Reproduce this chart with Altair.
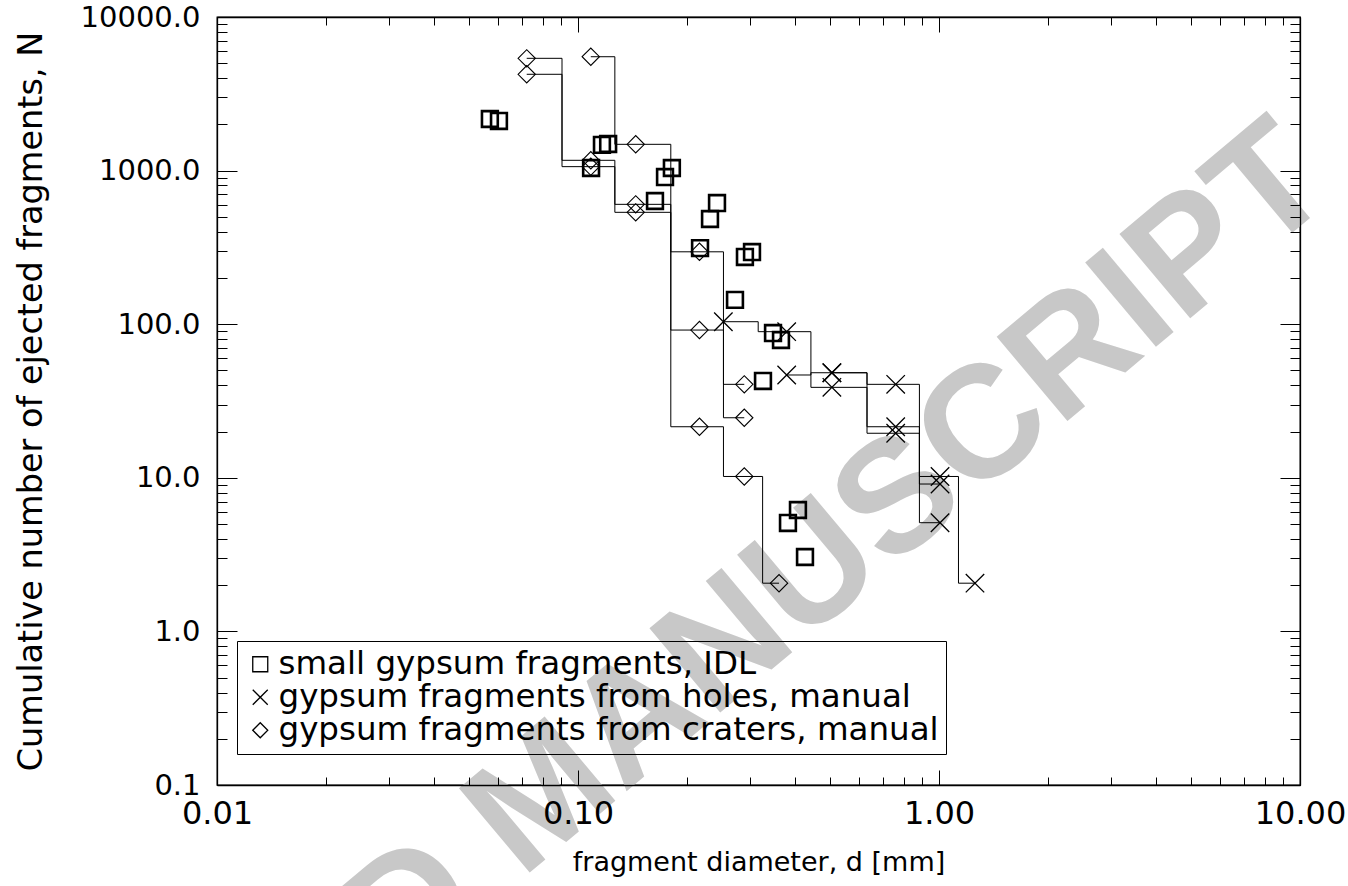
import altair as alt
import pandas as pd

# ---------------- data ----------------
LBL_SQ = "small gypsum fragments, IDL"
LBL_X = "gypsum fragments from holes, manual"
LBL_D = "gypsum fragments from craters, manual"

# small gypsum fragments (IDL) - squares, no line
sq_x = [0.0570, 0.0604, 0.1087, 0.1165, 0.1212, 0.1634, 0.1742, 0.1820, 0.2178, 0.2321,
        0.2427, 0.2722, 0.2900, 0.3034, 0.3254, 0.3469, 0.3650, 0.3816, 0.4067, 0.4254]
sq_y = [2168, 2104, 1040, 1470, 1490, 634, 908, 1040, 313, 484,
        615, 144, 274, 295, 42.7, 87.6, 78.9, 5.08, 6.17, 3.05]

# craters - diamonds with histogram-style step lines (three experiments)
crater1_x = [0.0721, 0.1085, 0.1445, 0.2170, 0.2888]
crater1_y = [5383, 1167, 603, 91.6, 24.6]
crater2_x = [0.0721, 0.1085, 0.1445, 0.2170, 0.2888, 0.3605]
crater2_y = [4237, 1061, 535, 21.5, 10.2, 2.06]
crater3_x = [0.1085, 0.1445, 0.2170, 0.2888]
crater3_y = [5513, 1483, 296, 40.6]

# holes - crosses with histogram-style step lines (three experiments)
hole1_x = [0.2527, 0.3785, 0.5050, 0.7586, 1.0066]
hole1_y = [103.8, 89.4, 38.8, 19.5, 5.1]
hole2_x = [0.3785, 0.5050, 0.7586, 1.0066, 1.2580]
hole2_y = [46.7, 48.3, 40.6, 10.2, 2.06]
hole3_x = [0.5050, 0.7586, 1.0066]
hole3_y = [48.3, 21.5, 9.11]

x_major = [0.01, 0.1, 1.0, 10.0]
y_major = [0.1, 1.0, 10.0, 100.0, 1000.0, 10000.0]
x_ticks = [round(m * 10.0 ** e, 6) for e in range(-2, 1) for m in range(1, 10)] + [10.0]
y_ticks = [round(m * 10.0 ** e, 6) for e in range(-1, 4) for m in range(1, 10)] + [10000.0]

# ---------------- tables ----------------
def step_rows(xs, ys, sid):
    """IDL psym=10 style: steps at arithmetic midpoints between points."""
    rows = [dict(x=xs[0], y=ys[0], s=sid, o=0)]
    k = 1
    for i in range(len(xs) - 1):
        m = (xs[i] + xs[i + 1]) / 2.0
        rows.append(dict(x=m, y=ys[i], s=sid, o=k)); k += 1
        rows.append(dict(x=m, y=ys[i + 1], s=sid, o=k)); k += 1
    rows.append(dict(x=xs[-1], y=ys[-1], s=sid, o=k))
    return rows

craters = [(crater1_x, crater1_y), (crater2_x, crater2_y), (crater3_x, crater3_y)]
holes = [(hole1_x, hole1_y), (hole2_x, hole2_y), (hole3_x, hole3_y)]

step_data = []
for i, (xs, ys) in enumerate(craters):
    step_data += step_rows(xs, ys, f"c{i}")
for i, (xs, ys) in enumerate(holes):
    step_data += step_rows(xs, ys, f"h{i}")
steps_df = pd.DataFrame(step_data)

sq_df = pd.DataFrame({"x": sq_x, "y": sq_y, "kind": LBL_SQ})
d_df = pd.DataFrame({"x": sum([c[0] for c in craters], []),
                     "y": sum([c[1] for c in craters], []), "kind": LBL_D})
h_df = pd.DataFrame({"x": sum([h[0] for h in holes], []),
                     "y": sum([h[1] for h in holes], []), "kind": LBL_X})

# ---------------- scales ----------------
W, H = 1083, 768
xs_ = alt.Scale(type="log", domain=[0.01, 10], nice=False)
ys_ = alt.Scale(type="log", domain=[0.1, 10000], nice=False)
XPATH = "M-1,-1L1,1M-1,1L1,-1"

shape_scale = alt.Scale(domain=[LBL_SQ, LBL_X, LBL_D], range=["square", XPATH, "diamond"])
legend = alt.Legend(
    title=None, orient="none", legendX=20, legendY=624,
    strokeColor="black", padding=7, cornerRadius=0,
    rowPadding=0, labelOffset=2, labelFont="DejaVu Sans", labelFontSize=32.5,
    labelColor="black", labelLimit=0, symbolSize=225, symbolStrokeWidth=1.3,
    symbolStrokeColor="black", symbolFillColor="transparent", symbolType="square",
)

major_test = "abs(log(datum.value)/LN10 - round(log(datum.value)/LN10)) < 0.001"
def tsize(major, minor):
    return {"condition": {"test": major_test, "value": major}, "value": minor}

FONT = "DejaVu Sans"

# ---------------- layers ----------------
watermark = alt.Chart(pd.DataFrame({"t": ["ACCEPTED MANUSCRIPT"]})).mark_text(
    font="Liberation Sans", fontWeight="bold", fontSize=160, color="#c8c8c8",
    angle=320, align="center", baseline="middle",
).encode(text="t:N", x=alt.value(328), y=alt.value(780))

lines = alt.Chart(steps_df).mark_line(color="black", strokeWidth=1, interpolate="linear").encode(
    x=alt.X("x:Q", scale=xs_, axis=None),
    y=alt.Y("y:Q", scale=ys_, axis=None),
    detail="s:N",
    order="o:Q",
)

diamonds = alt.Chart(d_df).mark_point(filled=False, color="black", size=300, strokeWidth=1.1, opacity=1).encode(
    x=alt.X("x:Q", scale=xs_, axis=None),
    y=alt.Y("y:Q", scale=ys_, axis=None),
    shape=alt.Shape("kind:N", scale=shape_scale, legend=legend),
)
crosses = alt.Chart(h_df).mark_point(filled=False, color="black", size=340, strokeWidth=1.3, opacity=1).encode(
    x=alt.X("x:Q", scale=xs_, axis=None),
    y=alt.Y("y:Q", scale=ys_, axis=None),
    shape=alt.Shape("kind:N", scale=shape_scale, legend=legend),
)
squares = alt.Chart(sq_df).mark_point(filled=False, color="black", size=250, strokeWidth=2.6, opacity=1).encode(
    x=alt.X("x:Q", scale=xs_, axis=None),
    y=alt.Y("y:Q", scale=ys_, axis=None),
    shape=alt.Shape("kind:N", scale=shape_scale, legend=legend),
)

# axis with labels and titles (drawn above the watermark)
axis_labels = alt.Chart(sq_df).mark_point(opacity=0).encode(
    x=alt.X("x:Q", scale=xs_, axis=alt.Axis(
        orient="bottom", values=x_major, format=".2f", ticks=False, domain=False, grid=False,
        labelFont=FONT, labelFontSize=32, labelColor="black", labelPadding=13,
        labelFlush=False, labelOverlap=False, labelBound=False, zindex=1,
        title="fragment diameter, d [mm]", titleFont=FONT, titleFontSize=27,
        titleFontWeight="normal", titleColor="black", titleBaseline="middle",
        titleX=W / 2, titleY=77)),
    y=alt.Y("y:Q", scale=ys_, axis=alt.Axis(
        orient="left", values=y_major, format=".1f", ticks=False, domain=False, grid=False,
        labelFont=FONT, labelFontSize=29, labelColor="black", labelPadding=17,
        labelFlush=False, labelOverlap=False, labelBound=False, zindex=1,
        title="Cumulative number of ejected fragments, N", titleFont=FONT, titleFontSize=33.5,
        titleFontWeight="normal", titleColor="black", titleAngle=270, titleBaseline="middle",
        titleX=-186, titleY=H / 2)),
)

def tick_axis(orient, offset, values, major, minor):
    return alt.Axis(
        orient=orient, offset=offset, values=values, labels=False, grid=False, title=None,
        domain=True, domainColor="black", domainWidth=1.3, zindex=1,
        tickColor="black", tickWidth=1, tickSize=tsize(major, minor))

# inward ticks (and frame line) on bottom and left edges
ticks_a = alt.Chart(sq_df).mark_point(opacity=0).encode(
    x=alt.X("x:Q", scale=xs_, axis=tick_axis("top", -H, x_ticks, 15, 8)),
    y=alt.Y("y:Q", scale=ys_, axis=tick_axis("right", -W, y_ticks, 20, 10)),
)
# inward ticks (and frame line) on top and right edges
ticks_b = alt.Chart(sq_df).mark_point(opacity=0).encode(
    x=alt.X("x:Q", scale=xs_, axis=tick_axis("bottom", -H, x_ticks, 15, 8)),
    y=alt.Y("y:Q", scale=ys_, axis=tick_axis("left", -W, y_ticks, 20, 10)),
)

chart = alt.layer(
    watermark, axis_labels, ticks_a, ticks_b, lines, diamonds, crosses, squares
).resolve_axis(x="independent", y="independent").properties(
    width=W, height=H,
    autosize=alt.AutoSizeParams(type="none"),
    padding={"left": 217, "top": 17, "right": 48, "bottom": 101},
    background="white",
).configure_view(stroke="black", strokeWidth=1.3)

chart.save("out.html", embed_options={"renderer": "svg", "actions": False})
